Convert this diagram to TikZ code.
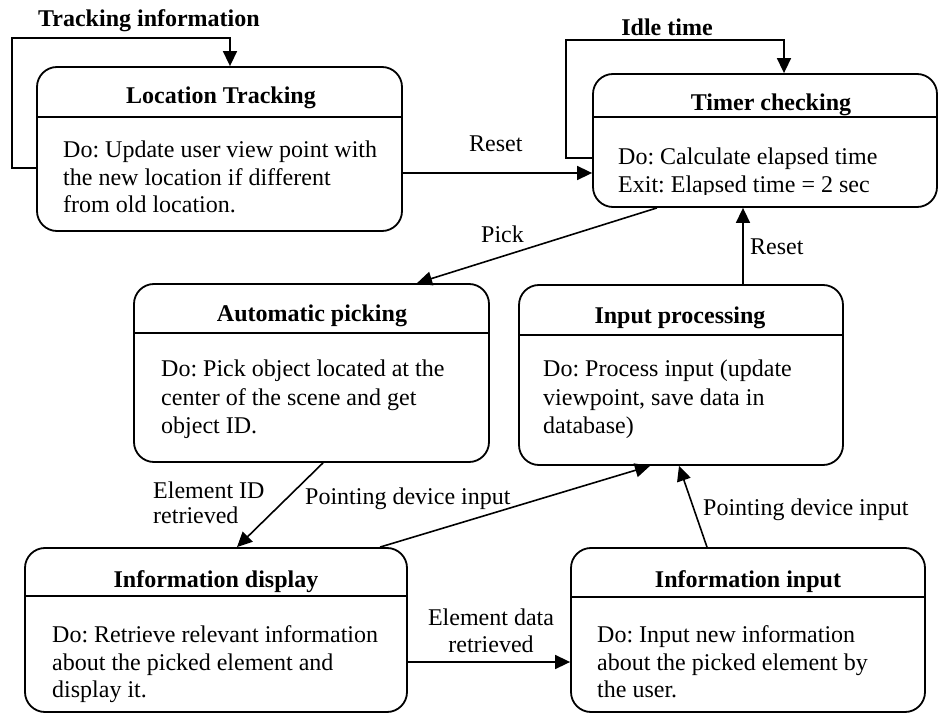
\documentclass[tikz,border=0pt]{standalone}
\usepackage{fontspec}
\setmainfont{Liberation Serif}
\usetikzlibrary{arrows.meta}
\tikzset{
  box/.style={draw, line width=1.8pt, rounded corners=20pt, inner sep=0pt, rectangle},
  hline/.style={line width=1.8pt},
  conn/.style={line width=1.6pt, -{Triangle[length=15pt,width=14pt]}},
  txt/.style={inner sep=0pt, anchor=base west, font=\fontsize{24}{27}\selectfont\frenchspacing},
  ctxt/.style={inner sep=0pt, anchor=base, font=\fontsize{24}{27}\selectfont\frenchspacing},
  ttl/.style={inner sep=0pt, anchor=base, font=\fontsize{24}{27}\selectfont\bfseries\frenchspacing},
}
\begin{document}
\frenchspacing
\begin{tikzpicture}[x=1pt,y=-1pt]
\useasboundingbox (0,0) rectangle (938,714);
% boxes
\node[box, minimum width=365pt, minimum height=164pt] (lt) at (219.5,149) {};
\node[box, minimum width=344pt, minimum height=133pt] (tc) at (765,140.5) {};
\node[box, minimum width=355pt, minimum height=178pt] (ap) at (311.5,373) {};
\node[box, minimum width=324pt, minimum height=180pt] (ip) at (681,375) {};
\node[box, minimum width=382pt, minimum height=164pt] (id) at (216,630) {};
\node[box, minimum width=354pt, minimum height=164pt] (ii) at (748,630) {};
% header lines
\draw[hline] (lt.west |- 0,117) -- (lt.east |- 0,117);
\draw[hline] (tc.west |- 0,117) -- (tc.east |- 0,117);
\draw[hline] (ap.west |- 0,333) -- (ap.east |- 0,333);
\draw[hline] (ip.west |- 0,335) -- (ip.east |- 0,335);
\draw[hline] (id.west |- 0,596) -- (id.east |- 0,596);
\draw[hline] (ii.west |- 0,597) -- (ii.east |- 0,597);
% titles
\node[ttl] (ltT) at (221,104) {Location Tracking};
\node[ttl] (tcT) at (771,111) {Timer checking};
\node[ttl] (apT) at (312,322) {Automatic picking};
\node[ttl] (ipT) at (680,324) {Input processing};
\node[ttl] (idT) at (216,587) {Information display};
\node[ttl] (iiT) at (748,587) {Information input};
% bodies
\node[txt] (lt1) at (63,158) {Do: Update user view point with};
\node[txt] (lt2) at (63,186) {the new location if different};
\node[txt] (lt3) at (63,213) {from old location.};
\node[txt] (tc1) at (618,165) {Do: Calculate elapsed time};
\begin{scope}
\clip (593,0) rectangle (937,195);
\node[txt] (tc2) at (618,193) {Exit: Elapsed time = 2 sec};
\end{scope}
\node[txt] (ap1) at (161,377) {Do: Pick object located at the};
\node[txt] (ap2) at (161,405) {center of the scene and get};
\node[txt] (ap3) at (161,433) {object ID.};
\node[txt] (ip1) at (543,377) {Do: Process input (update};
\node[txt] (ip2) at (543,405) {viewpoint, save data in};
\node[txt] (ip3) at (543,433) {database)};
\node[txt] (id1) at (52,642) {Do: Retrieve relevant information};
\node[txt] (id2) at (52,670) {about the picked element and};
\node[txt] (id3) at (52,697) {display it.};
\node[txt] (ii1) at (597,642) {Do: Input new information};
\node[txt] (ii2) at (597,670) {about the picked element by};
\node[txt] (ii3) at (597,697) {the user.};
% self loops
\draw[conn] (lt.west |- 0,168) -- (12,168) -- (12,38) -- (230,38) -- (lt.north -| 230,0);
\node[txt, font=\fontsize{24}{27}\selectfont\bfseries] (lblTrack) at (38,27) {Tracking information};
\draw[conn] (tc.west |- 0,158) -- (566,158) -- (566,40) -- (784,40) -- (tc.north -| 784,0);
\node[ttl] (lblIdle) at (667,36) {Idle time};
% connectors
\draw[conn] (lt.east |- 0,173) -- (tc.west |- 0,173);
\node[txt] (lblReset1) at (469,152) {Reset};
\draw[conn] (tc.south -| 657,0) -- (ap.north -| 417,0);
\node[txt] (lblPick) at (481,243) {Pick};
\draw[conn] (ip.north -| 743,0) -- (tc.south -| 743,0);
\node[txt] (lblReset2) at (750,255) {Reset};
\draw[conn] (ap.south -| 323,0) -- (id.north -| 237,0);
\node[txt] (lblEid1) at (153,498) {Element ID};
\node[txt] (lblEid2) at (153,523) {retrieved};
\draw[conn] (id.north -| 380,0) -- (ip.south -| 650,0);
\node[txt] (lblPdi1) at (305,504) {Pointing device input};
\draw[conn] (ii.north -| 707,0) -- (ip.south -| 679,0);
\node[txt] (lblPdi2) at (703,515) {Pointing device input};
\draw[conn] (id.east |- 0,662) -- (ii.west |- 0,662);
\node[ctxt] (lblEd1) at (491,625) {Element data};
\node[ctxt] (lblEd2) at (491,652) {retrieved};
\end{tikzpicture}
\end{document}
